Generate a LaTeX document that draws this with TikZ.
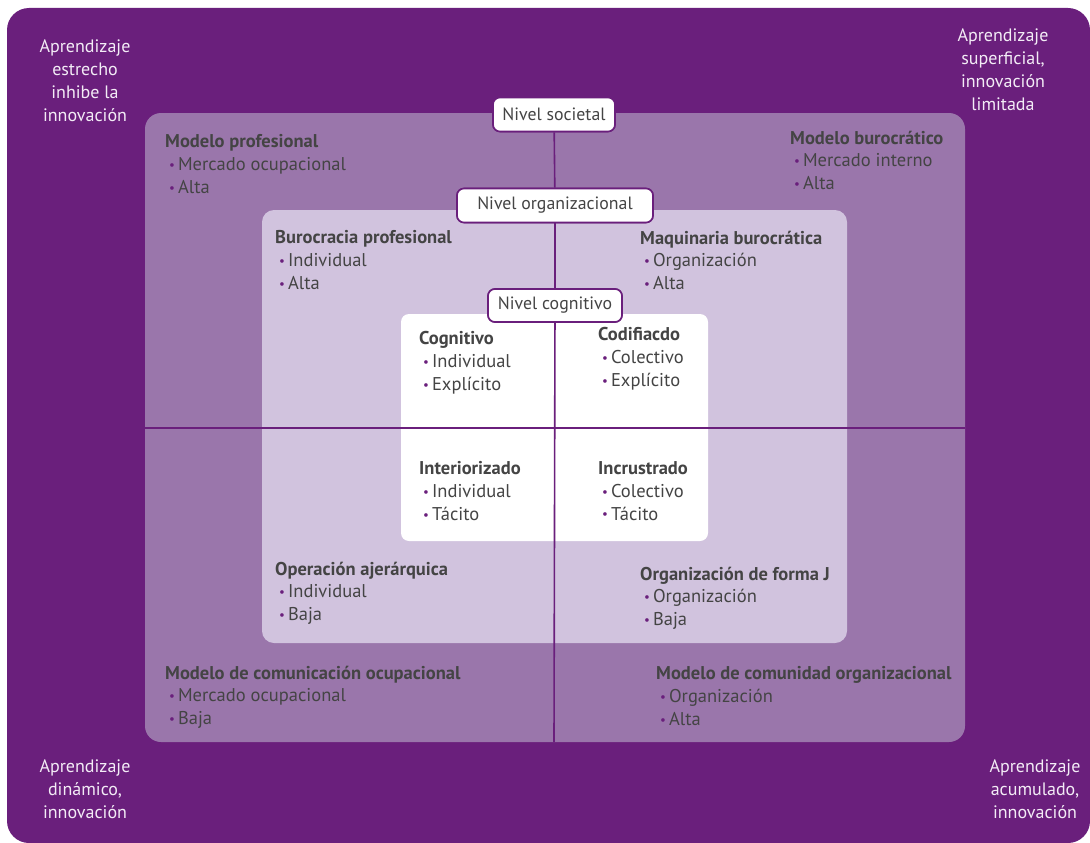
\documentclass[tikz,border=0pt]{standalone}
\usepackage{fontspec}
\setmainfont{PT Sans}
\definecolor{dp}{HTML}{6A1F7C}
\definecolor{mp}{HTML}{9A76AB}
\definecolor{lp}{HTML}{D1C3DE}
\definecolor{tx}{HTML}{444444}
\definecolor{wt}{HTML}{F3ECF6}
\newcommand\bl{\hspace*{4pt}\textcolor{dp}{\raisebox{0.15ex}{\scalebox{0.7}{•}}}\hspace{3pt}}
\begin{document}
\begin{tikzpicture}[x=1pt,y=-1pt,
  lvl/.style={draw=dp, line width=1.6pt, fill=white, rounded corners=7pt, text=tx,
    font=\fontsize{17.8}{20}\selectfont, inner sep=0, minimum height=34pt},
  block/.style={anchor=north west, align=left, inner sep=0, text=tx,
    font=\fontsize{18.5}{22.8}\selectfont},
  corner/.style={align=center, inner sep=0, text=wt, font=\fontsize{18}{23}\selectfont},
  conn/.style={draw=dp, line width=1.6pt}]
\useasboundingbox (0,0) rectangle (1090,843);
\fill[dp, rounded corners=22pt] (7,8) rectangle (1090,843);
\fill[mp, rounded corners=16pt] (145,113) rectangle (965,742);
\fill[lp, rounded corners=12pt] (262,210) rectangle (847,643);
\fill[white, rounded corners=8pt] (401,314) rectangle (708,541);
\coordinate (vb) at (554,742);
\coordinate (hl) at (145,428);
\coordinate (hr) at (965,428);
\node[lvl, minimum width=122pt] (soc) at (554,114.5) {Nivel societal};
\node[lvl, minimum width=196pt] (org) at (555,205.5) {Nivel organizacional};
\node[lvl, minimum width=134pt, minimum height=33pt] (cog) at (555,305.5) {Nivel cognitivo};
\draw[conn] (hl) -- (hr);
\draw[conn] (soc) -- (org);
\draw[conn] (org) -- (cog);
\draw[conn] (cog) -- (vb);
\node[lvl, minimum width=122pt] at (soc) {Nivel societal};
\node[lvl, minimum width=196pt] at (org) {Nivel organizacional};
\node[lvl, minimum width=134pt, minimum height=33pt] at (cog) {Nivel cognitivo};
% corner texts
\node[corner] (c1) at (85,81) {Aprendizaje\\estrecho\\inhibe la\\innovación};
\node[corner] (c2) at (1003,70) {Aprendizaje\\superficial,\\innovación\\limitada};
\node[corner] (c3) at (85,789) {Aprendizaje\\dinámico,\\innovación};
\node[corner] (c4) at (1035,789) {Aprendizaje\\acumulado,\\innovación};
% middle box
\node[block] (m1) at (165,134.5) {\textbf{Modelo profesional}\\\bl Mercado ocupacional\\\bl Alta};
\node[block] (m2) at (790,130.5) {\textbf{Modelo burocrático}\\\bl Mercado interno\\\bl Alta};
\node[block] (m3) at (165,665.5) {\textbf{Modelo de comunicación ocupacional}\\\bl Mercado ocupacional\\\bl Baja};
\node[block] (m4) at (656,666.5) {\textbf{Modelo de comunidad organizacional}\\\bl Organización\\\bl Alta};
% inner box
\node[block] (i1) at (275,230.5) {\textbf{Burocracia profesional}\\\bl Individual\\\bl Alta};
\node[block] (i2) at (640,230.5) {\textbf{Maquinaria burocrática}\\\bl Organización\\\bl Alta};
\node[block] (i3) at (275,561.5) {\textbf{Operación ajerárquica}\\\bl Individual\\\bl Baja};
\node[block] (i4) at (640,566.5) {\textbf{Organización de forma J}\\\bl Organización\\\bl Baja};
% white box
\node[block] (w1) at (419,331.5) {\textbf{Cognitivo}\\\bl Individual\\\bl Explícito};
\node[block] (w2) at (598,327.5) {\textbf{Codifiacdo}\\\bl Colectivo\\\bl Explícito};
\node[block] (w3) at (419,461.5) {\textbf{Interiorizado}\\\bl Individual\\\bl Tácito};
\node[block] (w4) at (598,461.5) {\textbf{Incrustrado}\\\bl Colectivo\\\bl Tácito};
\end{tikzpicture}
\end{document}
